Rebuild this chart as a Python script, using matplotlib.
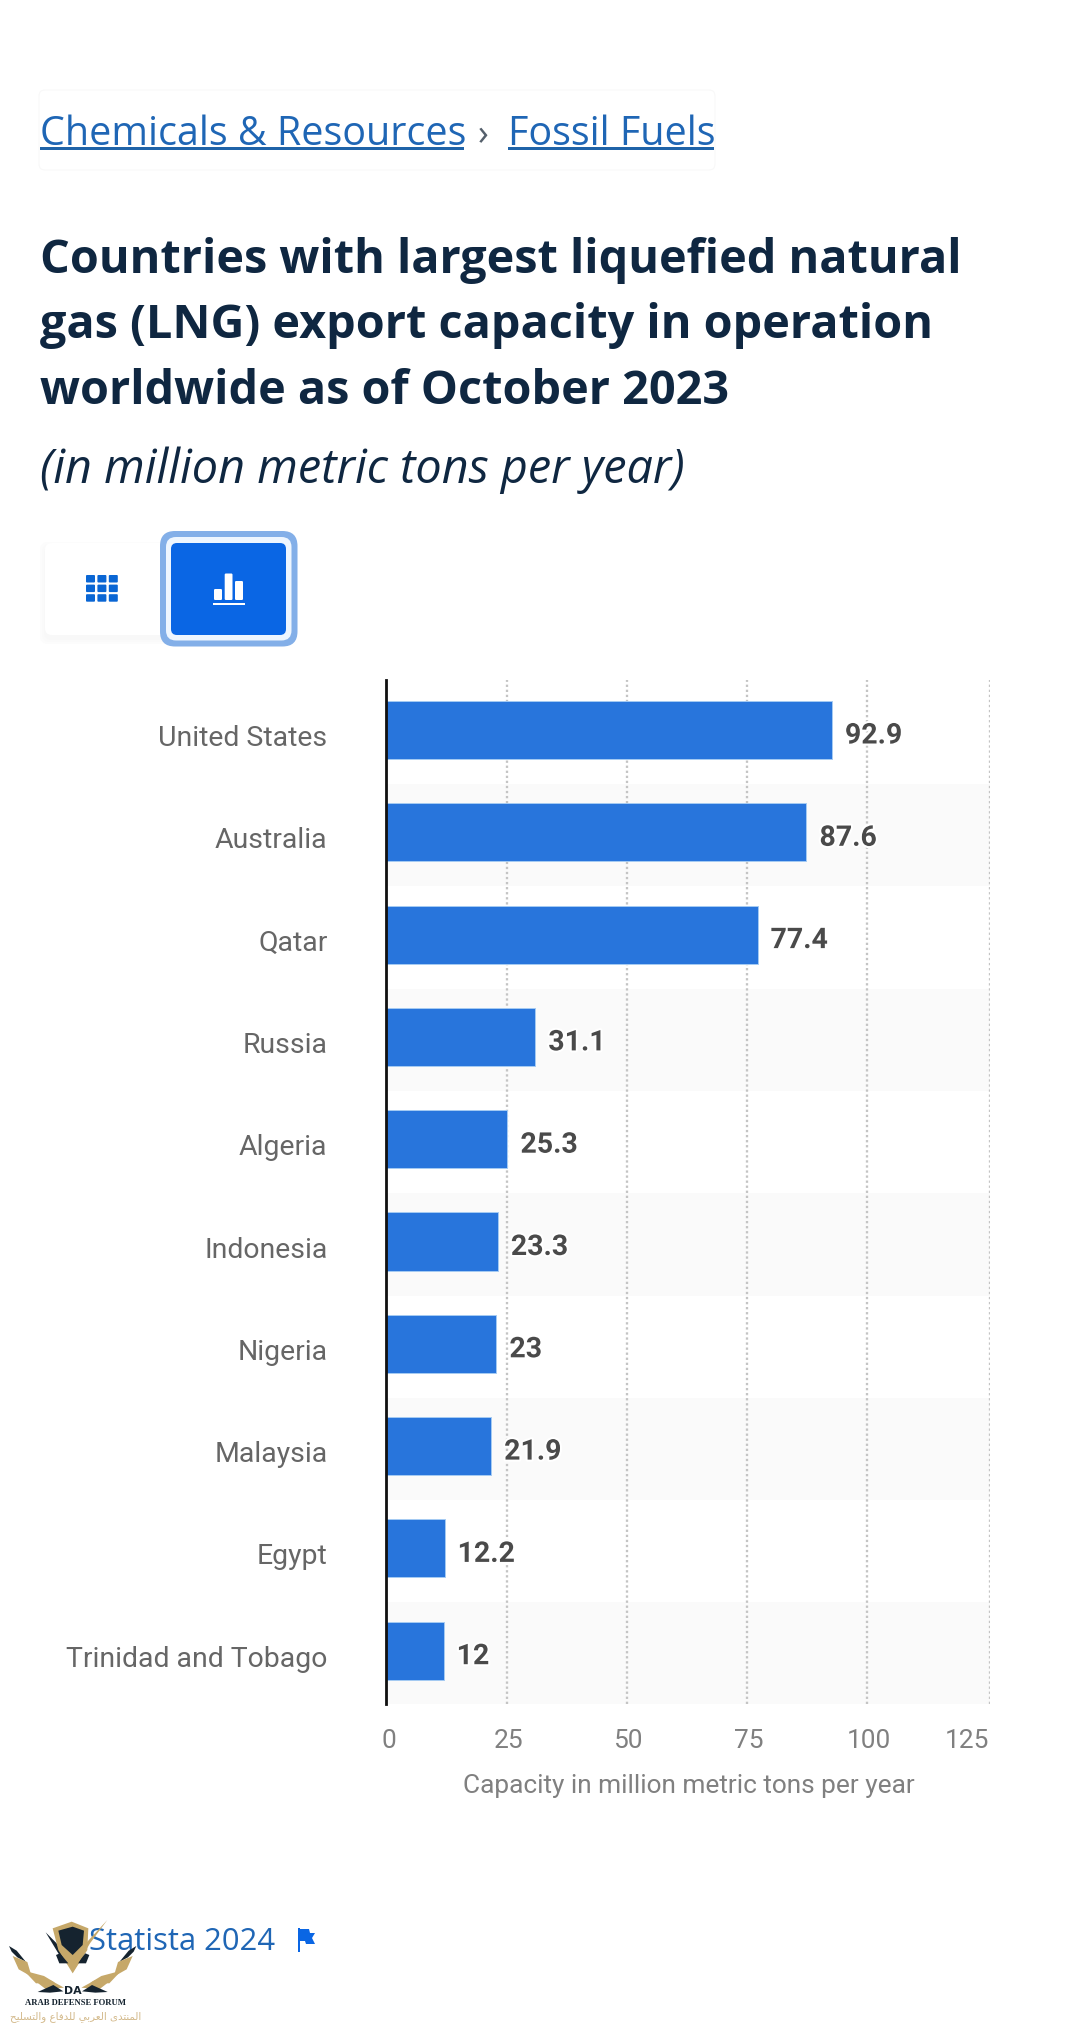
import matplotlib
matplotlib.use("Agg")
import matplotlib.pyplot as plt
import matplotlib.patheffects as pe
from matplotlib.patches import FancyBboxPatch, Rectangle, Polygon
from matplotlib.transforms import ScaledTranslation

countries = ["United States", "Australia", "Qatar", "Russia", "Algeria",
             "Indonesia", "Nigeria", "Malaysia", "Egypt", "Trinidad and Tobago"]
capacity = [92.9, 87.6, 77.4, 31.1, 25.3, 23.3, 23, 21.9, 12.2, 12]
value_labels = ["92.9", "87.6", "77.4", "31.1", "25.3", "23.3", "23", "21.9", "12.2", "12"]
x_ticks = [0, 25, 50, 75, 100, 125]
x_tick_labels = ["0", "25", "50", "75", "100", "125"]
title_lines = ["Countries with largest liquefied natural",
               "gas (LNG) export capacity in operation",
               "worldwide as of October 2023"]
subtitle = "(in million metric tons per year)"
x_label = "Capacity in million metric tons per year"

W, H = 1080, 2028
fig = plt.figure(figsize=(W / 100, H / 100), dpi=100, facecolor="white")
px = 0.72  # points per pixel at this dpi

# ---------- chart ----------
L, R, T, B = 386, 990, 680, 1704
ax = fig.add_axes([L / W, 1 - B / H, (R - L) / W, (B - T) / H])
pitch = 102.3
ax.set_xlim(0, 125.83)
ax.set_ylim((B - 730) / pitch, (T - 730) / pitch)

for i in range(len(countries)):
    if i % 2 == 1:
        ax.axhspan(i - 0.472, i + 0.528, color="#fafafa", lw=0, zorder=0)

ax.barh(range(len(countries)), capacity, height=0.567, color="#2875dc",
        edgecolor="#a5cbf3", linewidth=0.7, zorder=3)

for i, (v, s) in enumerate(zip(capacity, value_labels)):
    ax.annotate(s, (v, i), xytext=(13 * px, -5.5 * px), textcoords="offset points",
                ha="left", va="center", family="Roboto", weight="bold",
                fontsize=28.5 * px, color="#4a4a4a", zorder=4,
                path_effects=[pe.withStroke(linewidth=3, foreground="white")])

ax.set_xticks(x_ticks)
ax.set_xticklabels(x_tick_labels, family="Roboto", fontsize=26.3 * px, color="#808080")
ax.set_yticks(range(len(countries)))
ax.set_yticklabels(countries, family="Roboto", fontsize=28.4 * px, color="#666666", ha="right")
ax.tick_params(axis="x", length=0, pad=18)
ax.tick_params(axis="y", length=0, pad=58.5 * px)

dy_shift = ScaledTranslation(0, -5.5 / 100, fig.dpi_scale_trans)
for lab in ax.get_yticklabels():
    lab.set_transform(lab.get_transform() + dy_shift)
xlabs = ax.get_xticklabels()
for lab in xlabs[:-1]:
    lab.set_transform(lab.get_transform() + ScaledTranslation(2.5 / 100, 0, fig.dpi_scale_trans))
xlabs[-1].set_ha("right")
xlabs[-1].set_transform(xlabs[-1].get_transform() + ScaledTranslation(3.5 / 100, 0, fig.dpi_scale_trans))

grid_kw = dict(color="#c4c4c4", lw=2.3 * px, dashes=(1.0, 1.2), zorder=1)
grid_shift = ax.get_xaxis_transform() + ScaledTranslation(1.3 / 100, 0, fig.dpi_scale_trans)
for t in x_ticks[1:-1]:
    gridline = ax.axvline(t, **grid_kw)
    gridline.set_transform(grid_shift)
ax.axvline(ax.get_xlim()[1] - 0.05, **grid_kw)

for s in ("top", "right", "bottom"):
    ax.spines[s].set_visible(False)
ax.spines["left"].set_color("#111111")
ax.spines["left"].set_linewidth(2.8 * px)
ax.spines["left"].set_zorder(5)
ax.set_xlabel(x_label, family="Roboto", fontsize=26.3 * px, color="#808080", va="baseline", ha="center")
ax.xaxis.set_label_coords(0.5017, (B - 1792.7) / (B - T))

# ---------- page elements, in pixel coordinates ----------
ov = fig.add_axes([0, 0, 1, 1], zorder=10)
ov.set_xlim(0, W)
ov.set_ylim(H, 0)
ov.axis("off")
ov.patch.set_alpha(0)


def box(x0, y0, x1, y1, r, **kw):
    p = FancyBboxPatch((x0 + r, y0 + r), x1 - x0 - 2 * r, y1 - y0 - 2 * r,
                       boxstyle=f"round,pad={r},rounding_size={r}", **kw)
    ov.add_patch(p)
    return p


LINK = "#1f66b5"
NAVY = "#0f2741"

# breadcrumb
box(39, 90, 715, 170, 6, fc="none", ec="#f8f8f8", lw=0.8)
ov.text(40, 145, "Chemicals & Resources", family="Open Sans", fontsize=39.5 * px,
        color=LINK, va="baseline")
ov.add_patch(Rectangle((40, 147), 424, 2.6, fc="#1f63a8", lw=0))
ov.text(478, 145, "›", family="Open Sans", fontsize=36 * px, color="#55606c", va="baseline")
ov.text(508, 145, "Fossil Fuels", family="Open Sans", fontsize=39.5 * px,
        color=LINK, va="baseline")
ov.add_patch(Rectangle((508, 147), 206, 2.6, fc="#1f63a8", lw=0))

# title
for line, y in zip(title_lines, (272.7, 338.3, 404)):
    ov.text(40, y, line, family="Open Sans", weight="bold", fontsize=46.8 * px,
            color=NAVY, va="baseline")
ov.text(40, 482.7, subtitle, family="Open Sans", style="italic",
        fontsize=46.8 * px, color=NAVY, va="baseline")

# view buttons
for k, a in ((7, "#fcfcfc"), (5, "#fafafa"), (3, "#f8f8f8")):
    box(45 - k + 2, 543 - k + 6, 165 + k - 2, 635 + k + 2, 8, fc=a, ec="none")
box(45, 543, 168, 635, 7, fc="white", ec="none")
box(160, 531, 297.5, 646.5, 15, fc="#83afe8", ec="none")
box(166, 537, 291.5, 640.5, 10, fc="#eef6ff", ec="none")
box(171, 543, 286, 635, 6, fc="#0a66e4", ec="none")
for c in range(3):
    for r in range(3):
        box(86 + c * 11.4, 575 + r * 9.6, 86 + c * 11.4 + 9, 575 + r * 9.6 + 7.5, 1,
            fc="#0a66d4", ec="none")
for x0, x1, y0 in ((214, 222, 589), (224.7, 232.5, 573.5), (235, 243, 581)):
    box(x0, y0, x1, 600, 1.2, fc="white", ec="none")
ov.add_patch(Rectangle((213, 603), 32, 2.2, fc="white", lw=0))

# footer
ov.text(89, 1950, "Statista 2024", family="Open Sans", fontsize=31 * px, color=LINK, va="baseline")
ov.add_patch(Rectangle((297.5, 1928), 2, 24, fc="#0a66e4", lw=0))
ov.add_patch(Polygon([(299, 1929), (309, 1929), (310, 1933), (315, 1933), (312, 1938),
                      (315, 1944), (306, 1944), (305, 1941), (299, 1941)], fc="#0a66e4", lw=0))

# watermark logo
GOLD = "#c6a869"
DARK = "#15232f"
zx = lambda x: x / 3
zy = lambda y: 1900 + y / 3


def poly(points, color, z=12):
    ov.add_patch(Polygon([(zx(a), zy(b)) for a, b in points], fc=color, lw=0, zorder=z))


poly([(137, 97), (170, 130), (205, 195), (175, 160)], DARK)
poly([(158, 85), (215, 65), (265, 85), (262, 150), (218, 220), (175, 150)], GOLD)
poly([(175, 92), (218, 80), (252, 92), (248, 135), (218, 165), (185, 135)], DARK)
poly([(322, 60), (270, 130), (218, 218), (232, 180), (262, 125)], GOLD, 13)
poly([(168, 165), (180, 160), (205, 190), (178, 190)], DARK)
poly([(268, 165), (256, 160), (232, 190), (258, 190)], DARK)
wing = [([(27, 138), (50, 152), (78, 186), (52, 172), (35, 155)], DARK),
        ([(38, 168), (82, 186), (95, 230), (56, 208)], GOLD),
        ([(72, 212), (132, 228), (165, 248), (108, 250)], GOLD),
        ([(102, 240), (150, 240), (192, 263), (138, 268)], GOLD),
        ([(113, 276), (160, 255), (190, 274), (150, 278)], DARK)]
for pts, col in wing:
    poly(pts, col)
    poly([(436 - a, b) for a, b in pts], col)
ov.text(zx(218), zy(273), "DA", family="DejaVu Sans", weight="bold", fontsize=11 * px,
        color=DARK, ha="center", va="center", zorder=13)
ov.text(zx(227), zy(310), "ARAB DEFENSE FORUM", family="Liberation Serif", weight="bold",
        fontsize=8.6 * px, color=DARK, ha="center", va="center", zorder=13)
arabic = ["\uFE8D\uFEDF\uFEE4\uFEE8\uFE98\uFEAA\uFEEF",
          "\uFE8D\uFEDF\uFECC\uFEAE\uFE91\uFEF2",
          "\uFEDF\uFEE0\uFEAA\uFED3\uFE8E\uFEC9",
          "\uFEED\uFE8D\uFEDF\uFE98\uFEB4\uFEE0\uFEF4\uFEA2"]
ov.text(zx(228), zy(350), " ".join(arabic)[::-1], family="DejaVu Sans", fontsize=10.3 * px,
        color="#d3b98a", ha="center", va="center", zorder=13)

fig.savefig("out.png", dpi=100, facecolor="white")
